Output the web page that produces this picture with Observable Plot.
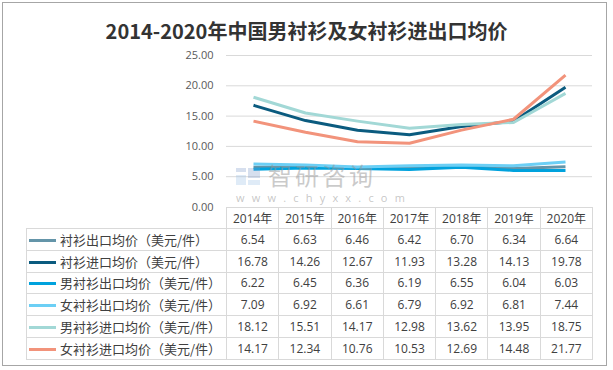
<!DOCTYPE html>
<html>
<head>
<meta charset="utf-8">
<script src="https://cdn.jsdelivr.net/npm/d3@7"></script>
<script src="https://cdn.jsdelivr.net/npm/@observablehq/plot@0.6"></script>
<style>
  html, body { margin: 0; padding: 0; background: #fff; }
  body { width: 613px; height: 370px; position: relative; overflow: hidden;
         font-family: "Open Sans", "Noto Sans CJK SC", sans-serif; }
  #frame { position: absolute; left: 2px; top: 2px; width: 605px; height: 364px;
           border: 1px solid #a6a6a6; box-sizing: border-box; }
  #title { position: absolute; left: 0; top: 18px; width: 613px; text-align: center;
           font-family: "Noto Sans CJK SC", sans-serif; font-weight: 700; font-size: 20px;
           line-height: 26px; color: #333; }
  #chart { position: absolute; left: 0; top: 45px; }
  #wm { position: absolute; left: 234px; top: 160px; pointer-events: none; }
  #wm .t { position: absolute; left: 34px; top: 2px; font-family: "Noto Sans CJK SC", sans-serif;
           font-size: 24px; line-height: 25px; color: rgba(150,150,150,0.5); letter-spacing: 3px; white-space: nowrap; }
  #wm .u { position: absolute; left: 2px; top: 32px; font-family: "Open Sans", sans-serif;
           font-size: 11px; line-height: 12px; color: rgba(150,150,150,0.55); letter-spacing: 7.2px; white-space: nowrap; }
  #wm .b { position: absolute; }
  table { position: absolute; left: 26px; top: 207px; border-collapse: collapse; table-layout: fixed;
          width: 567px; }
  td { border: 1px solid #d9d9d9; padding: 0; text-align: center; font-size: 12px; color: #404040;
       white-space: nowrap; overflow: hidden; }
  tr.head td { height: 20px; }
  tr.row td { height: 20.8px; }
  td.blank { border: none; }
  td.leg { text-align: left; font-family: "Noto Sans CJK SC", sans-serif; font-size: 13px; color: #404040; }
  td.leg span.sw { display: inline-block; width: 27px; height: 3px; margin-left: 2px; margin-right: 4px;
                   vertical-align: middle; position: relative; top: -1px; }
</style>
</head>
<body>
<div id="frame"></div>
<div id="title">2014-2020年中国男衬衫及女衬衫进出口均价</div>
<div id="chart"></div>
<div id="wm">
  <div class="b" style="left:2px;top:8px;width:10px;height:4px;background:rgba(120,150,200,0.3)"></div>
  <div class="b" style="left:14px;top:8px;width:12px;height:10px;background:rgba(120,150,200,0.3)"></div>
  <div class="b" style="left:2px;top:15px;width:10px;height:10px;background:rgba(150,190,230,0.3)"></div>
  <div class="b" style="left:14px;top:20px;width:12px;height:5px;background:rgba(150,190,230,0.3)"></div>
  <div class="t">智研咨询</div>
  <div class="u">www.chyxx.com</div>
</div>
<table id="tbl"></table>
<script>
const years = ["2014年", "2015年", "2016年", "2017年", "2018年", "2019年", "2020年"];
const seriesNames = [
  "衬衫出口均价（美元/件）",
  "衬衫进口均价（美元/件）",
  "男衬衫出口均价（美元/件）",
  "女衬衫出口均价（美元/件）",
  "男衬衫进口均价（美元/件）",
  "女衬衫进口均价（美元/件）"
];
const shirtExport      = [6.54, 6.63, 6.46, 6.42, 6.70, 6.34, 6.64];
const shirtImport      = [16.78, 14.26, 12.67, 11.93, 13.28, 14.13, 19.78];
const menShirtExport   = [6.22, 6.45, 6.36, 6.19, 6.55, 6.04, 6.03];
const womenShirtExport = [7.09, 6.92, 6.61, 6.79, 6.92, 6.81, 7.44];
const menShirtImport   = [18.12, 15.51, 14.17, 12.98, 13.62, 13.95, 18.75];
const womenShirtImport = [14.17, 12.34, 10.76, 10.53, 12.69, 14.48, 21.77];
const yTicks = [0, 5, 10, 15, 20, 25];
const colors = ["#6495a9", "#0b5b7f", "#00a2dd", "#6ccff5", "#a2d8d6", "#f2937b"];

const allValues = [shirtExport, shirtImport, menShirtExport, womenShirtExport, menShirtImport, womenShirtImport];
const data = [];
allValues.forEach((vals, si) => vals.forEach((v, i) => data.push({series: seriesNames[si], year: years[i], value: v})));

const chart = Plot.plot({
  width: 613,
  height: 170,
  marginLeft: 226,
  marginRight: 21,
  marginTop: 10,
  marginBottom: 8.5,
  style: {fontFamily: "'Open Sans', sans-serif", fontSize: "11px", color: "#595959", background: "transparent", overflow: "visible"},
  x: {type: "point", domain: years, padding: 0.5, axis: null},
  y: {domain: [0, 25], ticks: yTicks, tickFormat: d3.format(".2f"), label: null},
  color: {domain: seriesNames, range: colors},
  marks: [
    Plot.ruleY(yTicks.filter(d => d > 0), {stroke: "#d9d9d9", strokeWidth: 1}),
    Plot.axisY({ticks: yTicks, tickSize: 0, tickPadding: 13, tickFormat: d3.format(".2f"), fill: "#595959", fontSize: 11, label: null}),
    Plot.line(data, {x: "year", y: "value", z: "series", stroke: "series", strokeWidth: 3, strokeLinejoin: "round", strokeLinecap: "butt"})
  ]
});
document.getElementById("chart").appendChild(chart);

// data table
const tbl = document.getElementById("tbl");
const colgroup = document.createElement("colgroup");
const c0 = document.createElement("col"); c0.style.width = "200px"; colgroup.appendChild(c0);
years.forEach(() => { const c = document.createElement("col"); c.style.width = (366 / 7) + "px"; colgroup.appendChild(c); });
tbl.appendChild(colgroup);
const head = document.createElement("tr"); head.className = "head";
const blank = document.createElement("td"); blank.className = "blank"; head.appendChild(blank);
years.forEach(y => { const td = document.createElement("td"); td.textContent = y; head.appendChild(td); });
tbl.appendChild(head);
allValues.forEach((vals, si) => {
  const tr = document.createElement("tr"); tr.className = "row";
  const lt = document.createElement("td"); lt.className = "leg";
  const sw = document.createElement("span"); sw.className = "sw"; sw.style.background = colors[si];
  lt.appendChild(sw);
  lt.appendChild(document.createTextNode(seriesNames[si]));
  tr.appendChild(lt);
  vals.forEach(v => { const td = document.createElement("td"); td.textContent = v.toFixed(2); tr.appendChild(td); });
  tbl.appendChild(tr);
});
</script>
</body>
</html>
